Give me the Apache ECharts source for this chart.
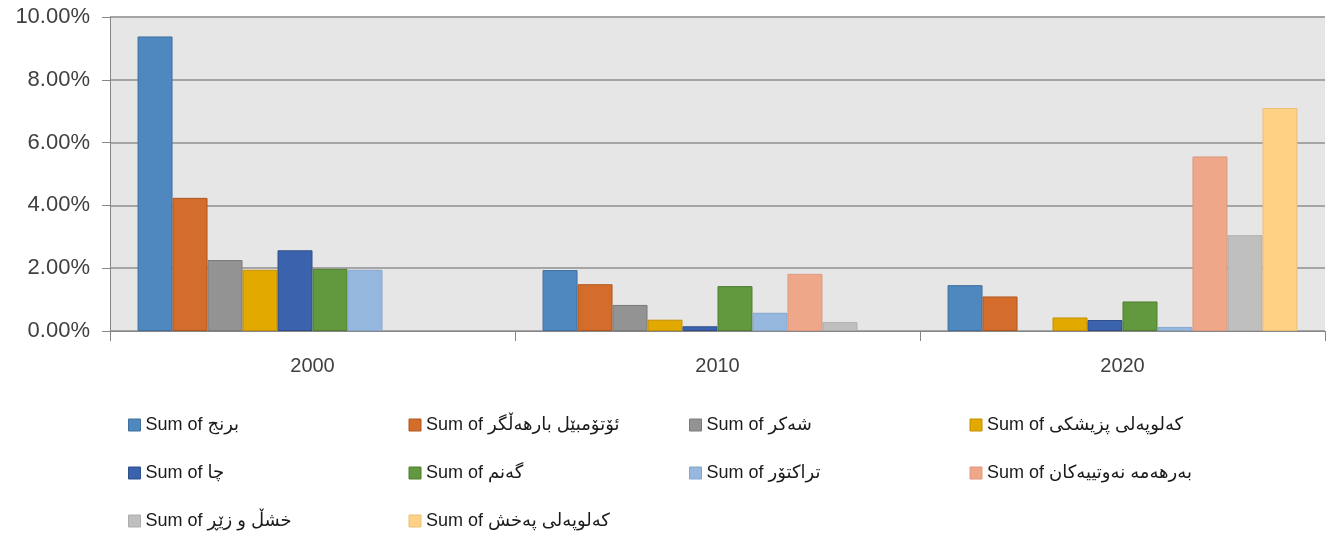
<!DOCTYPE html>
<html>
<head>
<meta charset="utf-8">
<script src="https://cdn.jsdelivr.net/npm/echarts@6/dist/echarts.min.js"></script>
<style>
  html, body { margin: 0; padding: 0; background: #fff; }
  #chart { width: 1328px; height: 533px; }
</style>
</head>
<body>
<div id="chart"></div>
<script>
// years on the x axis
var years = ['2000', '2010', '2020'];
// y axis ticks, in percent
var yTicks = [0, 2, 4, 6, 8, 10];

// series names (Sorani Kurdish), in legend order
var names = [
  'Sum of برنج',
  'Sum of ئۆتۆمبێل بارهەڵگر',
  'Sum of شەکر',
  'Sum of کەلوپەلی پزیشکی',
  'Sum of چا',
  'Sum of گەنم',
  'Sum of تراکتۆر',
  'Sum of بەرهەمە نەوتییەکان',
  'Sum of خشڵ و زێڕ',
  'Sum of کەلوپەلی پەخش'
];

// values per series for 2000, 2010, 2020 (percent); null = no bar drawn
var rice      = [9.38, 1.94, 1.46];
var trucks    = [4.24, 1.49, 1.10];
var sugar     = [2.26, 0.83, null];
var medical   = [1.95, 0.36, 0.43];
var tea       = [2.57, 0.15, 0.35];
var wheat     = [1.98, 1.43, 0.94];
var tractors  = [1.95, 0.58, 0.13];
var oil       = [null, 1.82, 5.56];
var jewelry   = [null, 0.28, 3.05];
var household = [null, null, 7.10];

var allData = [rice, trucks, sugar, medical, tea, wheat, tractors, oil, jewelry, household];

var fills   = ['#4f88bf', '#d46c2b', '#939393', '#e2a900', '#3b63ad', '#62993e', '#97b8de', '#efa78a', '#bfbfbf', '#ffd185'];
var borders = ['#3e6f9e', '#b0561f', '#7a7a7a', '#c29000', '#2e4f8c', '#4e7d30', '#86a6cb', '#dc9a80', '#adadad', '#e9bf78'];

var font = 'Liberation Sans, DejaVu Sans, sans-serif';

var series = names.map(function (n, i) {
  return {
    name: n,
    type: 'bar',
    data: allData[i],
    barGap: '0%',
    barCategoryGap: '13.6%',
    itemStyle: { color: fills[i], borderColor: borders[i], borderWidth: 1 }
  };
});

var myChart = echarts.init(document.getElementById('chart'));
var option = {
  animation: false,
  color: fills,
  grid: {
    left: 110, right: 3, top: 17, bottom: 202,
    show: true, backgroundColor: '#e6e6e6', borderWidth: 0
  },
  legend: {
    left: 123, top: 410, width: 1150,
    itemWidth: 12, itemHeight: 12, itemGap: 28,
    icon: 'rect',
    data: names.map(function (n, i) {
      return { name: n, itemStyle: { color: fills[i], borderColor: borders[i], borderWidth: 1 } };
    }),
    textStyle: {
      fontFamily: font, fontSize: 18, color: '#1a1a1a',
      width: 235, lineHeight: 20, overflow: 'truncate'
    }
  },
  xAxis: {
    type: 'category',
    data: years,
    axisLine: { lineStyle: { color: '#868686', width: 1 } },
    axisTick: { show: true, length: 10, lineStyle: { color: '#868686' } },
    axisLabel: { fontFamily: font, fontSize: 20, color: '#404040', margin: 25 }
  },
  yAxis: {
    type: 'value',
    min: 0, max: 10, interval: 2,
    axisLine: { show: true, lineStyle: { color: '#868686', width: 1 } },
    axisTick: { show: true, length: 8, lineStyle: { color: '#868686' } },
    axisLabel: {
      fontFamily: font, fontSize: 22, color: '#404040', margin: 20,
      formatter: function (v) { return yTicks.indexOf(v) >= 0 ? v.toFixed(2) + '%' : ''; }
    },
    splitLine: { lineStyle: { color: '#a5a5a5', width: 2 } }
  },
  series: series
};
option && myChart.setOption(option);
</script>
</body>
</html>
